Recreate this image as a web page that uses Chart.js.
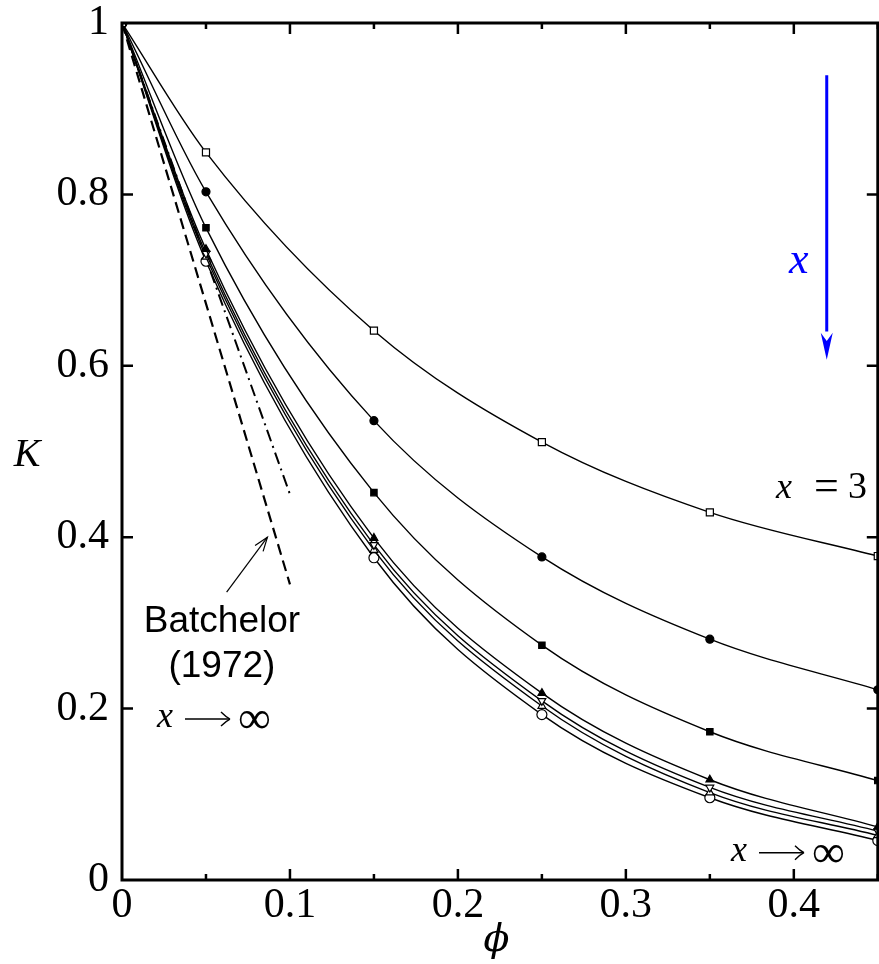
<!DOCTYPE html>
<html><head><meta charset="utf-8">
<script src="https://cdn.jsdelivr.net/npm/chart.js@4.4.1/dist/chart.umd.min.js"></script>
<style>html,body{margin:0;padding:0;background:#fff;overflow:hidden;width:879px;height:964px}
#wrap{position:absolute;left:0;top:0;width:884px;height:964px}</style></head>
<body><div id="wrap"><canvas id="c" width="884" height="964"></canvas></div>
<script>
// ---- data ----
const phi = [0, 0.05, 0.15, 0.25, 0.35, 0.45];
const K_x3        = [1, 0.849, 0.641, 0.511, 0.429, 0.378];
const K_dot       = [1, 0.803, 0.536, 0.377, 0.281, 0.222];
const K_square    = [1, 0.761, 0.452, 0.274, 0.173, 0.116];
const K_triangle  = [1, 0.736, 0.399, 0.218, 0.117, 0.062];
const K_downTri   = [1, 0.731, 0.391, 0.209, 0.108, 0.057];
const K_upTri     = [1, 0.727, 0.385, 0.203, 0.102, 0.052];
const K_circle    = [1, 0.722, 0.376, 0.193, 0.096, 0.046];
const batchelorPhi = [0, 0.1];
const batchelorK   = [1, 0.345];
const dashDotPhi   = [0, 0.1];
const dashDotK     = [1, 0.45];
const xTickLabels = ['0', '0.1', '0.2', '0.3', '0.4'];
const yTickLabels = ['0', '0.2', '0.4', '0.6', '0.8', '1'];

const pts = (xs, ys) => xs.map((x, i) => ({x: x, y: ys[i]}));

function series(vals, style, filled, radius, rotation) {
  return {
    data: pts(phi, vals), borderColor: '#000', borderWidth: 1.4,
    cubicInterpolationMode: 'monotone', fill: false,
    pointStyle: style, pointRadius: radius, pointRotation: rotation || 0,
    pointBackgroundColor: filled ? '#000' : '#fff', pointBorderColor: '#000',
    pointBorderWidth: 1.2, pointHoverRadius: radius
  };
}

const datasets = [
  series(K_x3, 'rect', false, 5),
  series(K_dot, 'circle', true, 4),
  series(K_square, 'rect', true, 4.5),
  series(K_triangle, 'triangle', true, 4.5),
  series(K_downTri, 'triangle', false, 4.5, 180),
  series(K_upTri, 'triangle', false, 4.5),
  series(K_circle, 'circle', false, 5),
  {data: pts(batchelorPhi, batchelorK), borderColor: '#000', borderWidth: 2.2, borderDash: [11, 6], pointRadius: 0, fill: false},
  {data: pts(dashDotPhi, dashDotK), borderColor: '#000', borderWidth: 2, borderDash: [12, 5, 2, 5], pointRadius: 0, fill: false}
];

function arrowHead(ctx, x1, y1, x2, y2, len, half, filled) {
  const a = Math.atan2(y2 - y1, x2 - x1);
  const bx = x2 - len * Math.cos(a), by = y2 - len * Math.sin(a);
  const px = -Math.sin(a) * half, py = Math.cos(a) * half;
  ctx.beginPath();
  ctx.moveTo(bx + px, by + py);
  ctx.lineTo(x2, y2);
  ctx.lineTo(bx - px, by - py);
  if (filled) { ctx.lineTo(x2 - len * 0.7 * Math.cos(a), y2 - len * 0.7 * Math.sin(a)); ctx.closePath(); ctx.fill(); }
  else ctx.stroke();
}

const decor = {
  id: 'decor',
  afterDraw(chart) {
    const ctx = chart.ctx, a = chart.chartArea;
    const xs = chart.scales.x, ys = chart.scales.y;
    const X = v => xs.getPixelForValue(v), Y = v => ys.getPixelForValue(v);
    ctx.save();
    ctx.strokeStyle = '#000'; ctx.fillStyle = '#000';
    // frame
    ctx.lineWidth = 3;
    ctx.strokeRect(a.left, a.top, a.right - a.left, a.bottom - a.top);
    // ticks
    ctx.lineWidth = 2.5;
    ctx.beginPath();
    for (let i = 1; i <= 9; i++) {
      const v = i * 0.05; const px = X(v); const L = (i % 2 === 0) ? 11 : 6;
      ctx.moveTo(px, a.bottom); ctx.lineTo(px, a.bottom - L);
      ctx.moveTo(px, a.top); ctx.lineTo(px, a.top + L);
    }
    for (let i = 1; i <= 4; i++) {
      const py = Y(i * 0.2);
      ctx.moveTo(a.left, py); ctx.lineTo(a.left + 11, py);
      ctx.moveTo(a.right, py); ctx.lineTo(a.right - 11, py);
    }
    ctx.stroke();
    // axis titles
    ctx.textAlign = 'center'; ctx.textBaseline = 'middle';
    ctx.font = 'italic 40px "Liberation Serif"';
    ctx.fillText('K', 27, Y(0.495));
    ctx.font = 'italic 38px "DejaVu Serif"';
    ctx.fillText('\u03D5', X(0.223), 941);
    // Batchelor annotation
    ctx.font = '37px "Liberation Sans"';
    ctx.fillText('Batchelor', X(0.0595), Y(0.301));
    ctx.fillText('(1972)', X(0.0595), Y(0.249));
    ctx.lineWidth = 1.2;
    ctx.beginPath(); ctx.moveTo(X(0.0623), Y(0.336)); ctx.lineTo(X(0.0866), Y(0.400)); ctx.stroke();
    arrowHead(ctx, X(0.0623), Y(0.336), X(0.0866), Y(0.400), 14, 5, false);
    // x -> infinity labels
    function xinf(leftPx, cy) {
      ctx.textAlign = 'left';
      ctx.font = 'italic 36px "Liberation Serif"';
      ctx.fillText('x', leftPx, cy);
      ctx.lineWidth = 1.5;
      const ax0 = leftPx + 28, ax1 = leftPx + 72;
      ctx.beginPath(); ctx.moveTo(ax0, cy + 1); ctx.lineTo(ax1, cy + 1); ctx.stroke();
      ctx.lineWidth = 1.4;
      ctx.beginPath();
      ctx.moveTo(ax1 - 8, cy - 6); ctx.quadraticCurveTo(ax1 - 3, cy - 1, ax1 + 1, cy + 1);
      ctx.moveTo(ax1 - 8, cy + 8); ctx.quadraticCurveTo(ax1 - 3, cy + 3, ax1 + 1, cy + 1);
      ctx.stroke();
      ctx.font = '46px "Liberation Serif"';
      ctx.fillText('\u221E', leftPx + 81, cy + 3);
    }
    xinf(157, Y(0.189));
    xinf(731, Y(0.033));
    // x = 3
    ctx.textAlign = 'left';
    ctx.font = 'italic 36px "Liberation Serif"';
    ctx.fillText('x', 776, Y(0.457));
    ctx.font = '44px "Liberation Serif"';
    ctx.fillText('=', 814, Y(0.457));
    ctx.font = '38px "Liberation Serif"';
    ctx.fillText('3', 848, Y(0.457));
    // blue arrow
    ctx.strokeStyle = '#0000ff'; ctx.fillStyle = '#0000ff';
    ctx.lineWidth = 3;
    const ax = X(0.4196);
    ctx.beginPath(); ctx.moveTo(ax, Y(0.939)); ctx.lineTo(ax, Y(0.64)); ctx.stroke();
    arrowHead(ctx, ax, Y(0.939), ax, Y(0.607), 27, 6, true);
    ctx.textAlign = 'center';
    ctx.font = 'italic 44px "Liberation Serif"';
    ctx.fillText('x', X(0.403), Y(0.722));
    ctx.restore();
  }
};

new Chart(document.getElementById('c'), {
  type: 'line',
  data: {datasets: datasets},
  options: {
    responsive: false, animation: false, devicePixelRatio: 1,
    layout: {padding: {top: 23, right: 4, left: 0, bottom: 0}},
    plugins: {legend: {display: false}, tooltip: {enabled: false}},
    scales: {
      x: {
        type: 'linear', min: 0, max: 0.45,
        grid: {display: false, drawTicks: false}, border: {display: false},
        ticks: {stepSize: 0.1, includeBounds: false, autoSkip: false, maxRotation: 0, padding: 1,
          color: '#000', font: {family: '"Liberation Serif"', size: 42},
          callback: (v, i) => xTickLabels[i]},
        afterFit: s => { s.height = 84; s.paddingLeft = 0; s.paddingRight = 0; }
      },
      y: {
        type: 'linear', min: 0, max: 1,
        grid: {display: false, drawTicks: false}, border: {display: false},
        ticks: {stepSize: 0.2, autoSkip: false, padding: 13,
          color: '#000', font: {family: '"Liberation Serif"', size: 42},
          callback: (v, i) => yTickLabels[i]},
        afterFit: s => { s.width = 122; s.paddingTop = 0; s.paddingBottom = 0; }
      }
    }
  },
  plugins: [decor]
});
</script>
</body></html>
